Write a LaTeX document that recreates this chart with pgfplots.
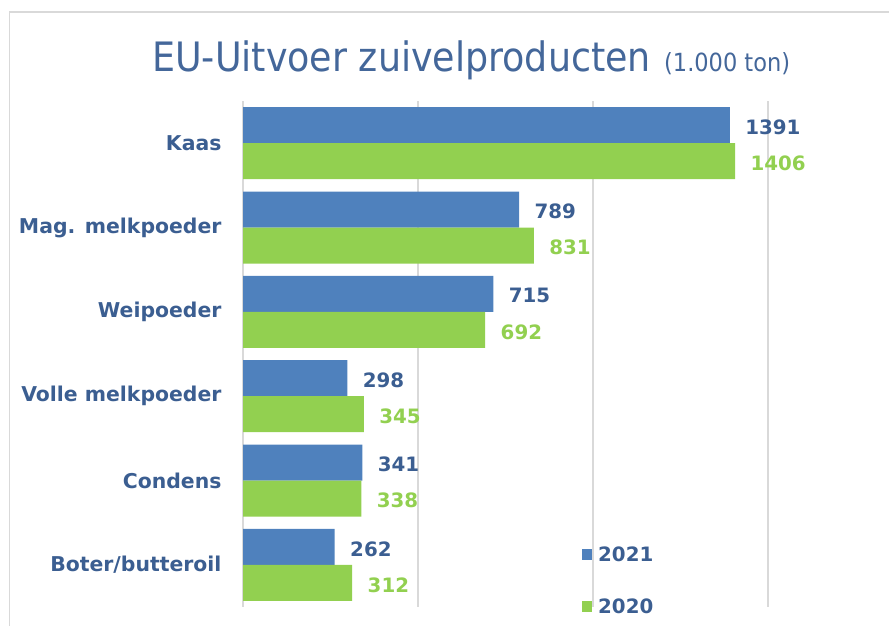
\documentclass[border=0pt]{standalone}
\usepackage{pgfplots}
\pgfplotsset{compat=1.18}
\usepackage{fontspec}
\setmainfont{DejaVu Sans}
\newfontfamily\condfont{DejaVu Sans Condensed}
\definecolor{barblue}{HTML}{4F81BD}
\definecolor{bargreen}{HTML}{92D050}
\definecolor{labblue}{HTML}{3B5E91}
\definecolor{titleblue}{HTML}{44679A}
\definecolor{gridgray}{HTML}{D9D9D9}
\begin{document}
\begin{tikzpicture}
\path[use as bounding box] (0,0) rectangle (889bp,626bp);
\draw[gridgray, line width=1.2bp] (9.5bp,0) -- (9.5bp,614bp) -- (889bp,614bp);
\node[anchor=base west, inner sep=0, text=titleblue] at (152bp,554bp)
  {\condfont\fontsize{40.5bp}{48bp}\selectfont EU-Uitvoer zuivelproducten};
\node[anchor=base west, inner sep=0, text=titleblue] at (664bp,554bp)
  {\condfont\fontsize{25bp}{30bp}\selectfont (1.000 ton)};
\begin{axis}[
  at={(243bp,19bp)}, anchor=south west,
  scale only axis, width=525bp, height=506bp,
  xbar, bar width=36bp,
  xmin=0, xmax=1500,
  ymin=-0.5, ymax=5.5, y dir=reverse,
  ytick={0,1,2,3,4,5},
  yticklabels={Kaas,Mag. melkpoeder,Weipoeder,Volle melkpoeder,Condens,Boter/butteroil},
  yticklabel style={font=\bfseries\fontsize{20.4bp}{24bp}\selectfont, text=labblue},
  y tick label style={xshift=-18bp},
  xtick={0,500,1000,1500}, xticklabels={},
  xmajorgrids, grid style={gridgray, line width=1.2bp},
  major tick length=0pt,
  axis line style={draw=none},
  clip=false,
  nodes near coords,
  nodes near coords align={horizontal},
  /pgf/number format/assume math mode=true,
  /pgf/number format/1000 sep={},
  every node near coord/.append style={font=\bfseries\fontsize{19.8bp}{23bp}\selectfont, anchor=west, xshift=12bp, yshift=-2bp},
  legend style={draw=none, fill=none, at={(0.6457,0.0)}, anchor=south west,
    font=\bfseries\fontsize{19.8bp}{23bp}\selectfont, text=labblue, row sep=32bp,
    inner sep=0pt, yshift=-10bp},
  legend cell align=left,
  legend image code/.code={\fill[#1, draw=none] (0bp,-5bp) rectangle (10bp,6bp); \path (14bp,0bp);},
]
\addplot[fill=barblue, draw=none, bar shift=18bp, every node near coord/.append style={text=labblue}]
  coordinates {(1391,0) (789,1) (715,2) (298,3) (341,4) (262,5)};
\addplot[fill=bargreen, draw=none, bar shift=-18bp, every node near coord/.append style={text=bargreen}]
  coordinates {(1406,0) (831,1) (692,2) (345,3) (338,4) (312,5)};
\legend{2021,2020}
\end{axis}
\end{tikzpicture}
\end{document}
